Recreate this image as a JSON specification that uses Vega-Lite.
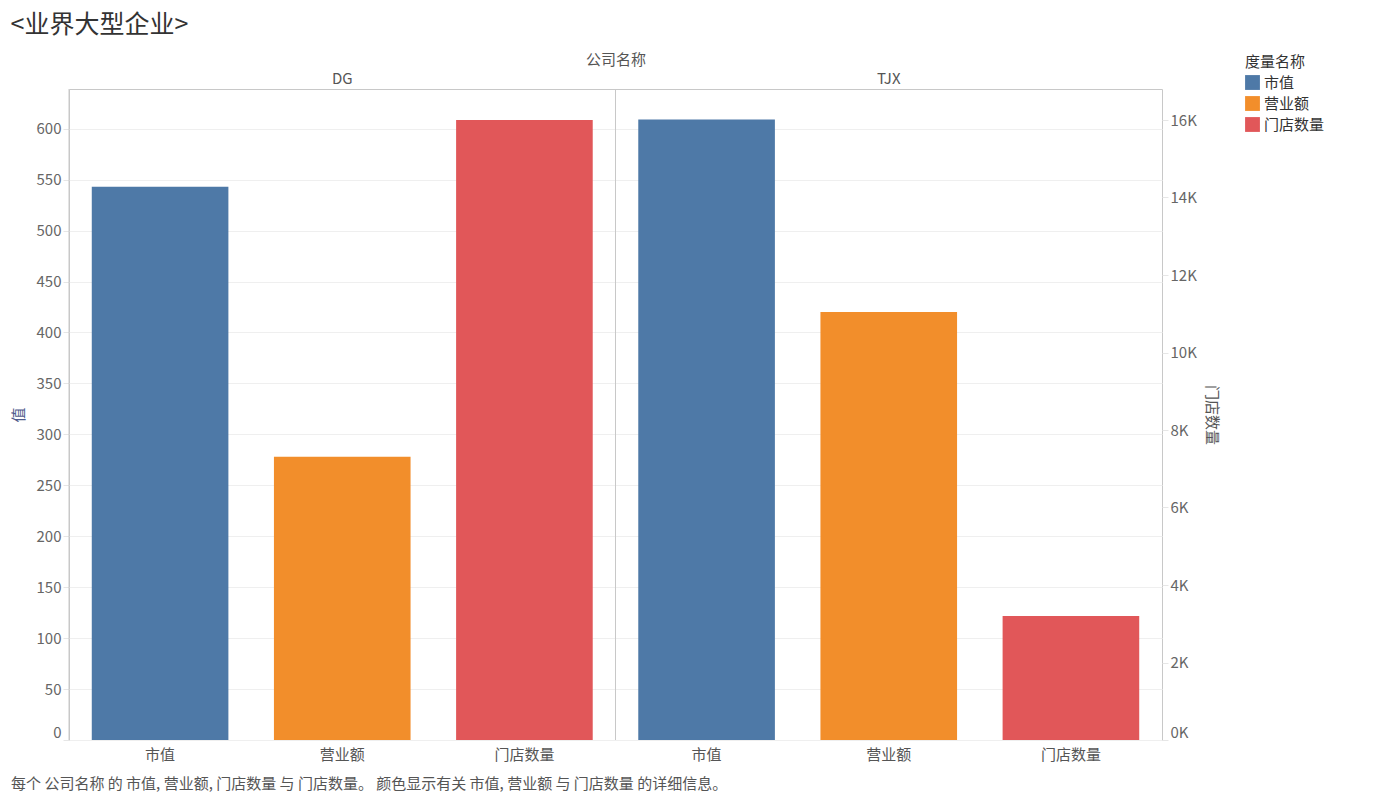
{
  "$schema": "https://vega.github.io/schema/vega-lite/v6.json",
  "padding": {"left": 10, "top": 12, "right": 5, "bottom": 4},
  "title": {"text": "<业界大型企业>", "anchor": "start", "frame": "bounds", "fontSize": 25, "fontWeight": "normal", "color": "#333333", "offset": 14, "font": "Noto Sans CJK SC"},
  "config": {
    "font": "Noto Sans CJK SC",
    "view": {"stroke": "#c8c8c8"},
    "axis": {"labelFontSize": 15, "labelColor": "#666666", "titleFontSize": 15, "titleFontWeight": "normal", "titleColor": "#555555", "domain": false, "tickColor": "#e6e6e6", "tickSize": 6},
    "legend": {"titleFontSize": 15, "labelFontSize": 15, "titleFontWeight": "normal", "titleColor": "#333333", "labelColor": "#333333", "symbolType": "square", "symbolSize": 220, "symbolStrokeWidth": 0, "rowPadding": 5}
  },
  "datasets": {
    "bars": [
      {"company": "DG", "measure": "市值", "key": "DG|市值", "value": 543},
      {"company": "DG", "measure": "营业额", "key": "DG|营业额", "value": 278},
      {"company": "DG", "measure": "门店数量", "key": "DG|门店数量", "value": 16000},
      {"company": "TJX", "measure": "市值", "key": "TJX|市值", "value": 609},
      {"company": "TJX", "measure": "营业额", "key": "TJX|营业额", "value": 420},
      {"company": "TJX", "measure": "门店数量", "key": "TJX|门店数量", "value": 3200}
    ],
    "companies": [
      {"company": "DG"},
      {"company": "TJX"}
    ]
  },
  "vconcat": [
    {
      "title": {"text": "每个 公司名称 的 市值, 营业额, 门店数量 与 门店数量。 颜色显示有关 市值, 营业额 与 门店数量 的详细信息。", "orient": "bottom", "anchor": "start", "frame": "bounds", "fontSize": 15, "fontWeight": "normal", "color": "#555555", "offset": 15},
      "width": 1093,
      "height": 651,
      "layer": [
        {
          "data": {"name": "bars"},
          "transform": [{"filter": "datum.measure !== '门店数量'"}],
          "mark": {"type": "bar"},
          "encoding": {
            "x": {"field": "key", "type": "nominal",
              "scale": {"domain": ["DG|市值", "DG|营业额", "DG|门店数量", "TJX|市值", "TJX|营业额", "TJX|门店数量"], "paddingInner": 0.25, "paddingOuter": 0.125},
              "axis": {"title": null, "labelAngle": 0, "ticks": false, "labelPadding": 7, "labelColor": "#555555", "labelExpr": "split(datum.value, '|')[1]"}},
            "y": {"field": "value", "type": "quantitative", "scale": {"domain": [0, 639], "nice": false},
              "axis": {"title": "值", "titleColor": "#4f5b8c", "values": [0, 50, 100, 150, 200, 250, 300, 350, 400, 450, 500, 550, 600], "grid": true, "gridColor": "#efefef", "labelFlush": true, "titlePadding": 10}},
            "color": {"field": "measure", "type": "nominal", "title": "度量名称",
              "legend": {"orient": "none", "legendX": 1176, "legendY": -34},
              "scale": {"domain": ["市值", "营业额", "门店数量"], "range": ["#4e79a7", "#f28e2b", "#e15759"]}}
          }
        },
        {
          "data": {"name": "bars"},
          "transform": [{"filter": "datum.measure === '门店数量'"}],
          "mark": {"type": "bar"},
          "encoding": {
            "x": {"field": "key", "type": "nominal",
              "scale": {"domain": ["DG|市值", "DG|营业额", "DG|门店数量", "TJX|市值", "TJX|营业额", "TJX|门店数量"], "paddingInner": 0.25, "paddingOuter": 0.125},
              "axis": null},
            "y": {"field": "value", "type": "quantitative", "scale": {"domain": [0, 16800], "nice": false},
              "axis": {"title": "门店数量", "orient": "right", "values": [0, 2000, 4000, 6000, 8000, 10000, 12000, 14000, 16000], "labelExpr": "datum.value / 1000 + 'K'", "grid": false, "labelFlush": true, "labelPadding": 2, "titlePadding": 7}},
            "color": {"field": "measure", "type": "nominal", "title": "度量名称",
              "scale": {"domain": ["市值", "营业额", "门店数量"], "range": ["#4e79a7", "#f28e2b", "#e15759"]}}
          }
        },
        {
          "data": {"name": "companies"},
          "mark": {"type": "rule", "color": "#c8c8c8", "strokeWidth": 1},
          "encoding": {
            "x": {"field": "company", "type": "nominal", "bandPosition": 0,
              "scale": {"domain": ["DG", "TJX"], "paddingInner": 0, "paddingOuter": 0},
              "axis": {"orient": "top", "title": "公司名称", "ticks": false, "labelAngle": 0, "labelPadding": 3, "titlePadding": 4, "labelColor": "#555555", "titleColor": "#555555"}}
          }
        }
      ],
      "resolve": {"scale": {"x": "independent", "y": "independent"}}
    }
  ]
}
